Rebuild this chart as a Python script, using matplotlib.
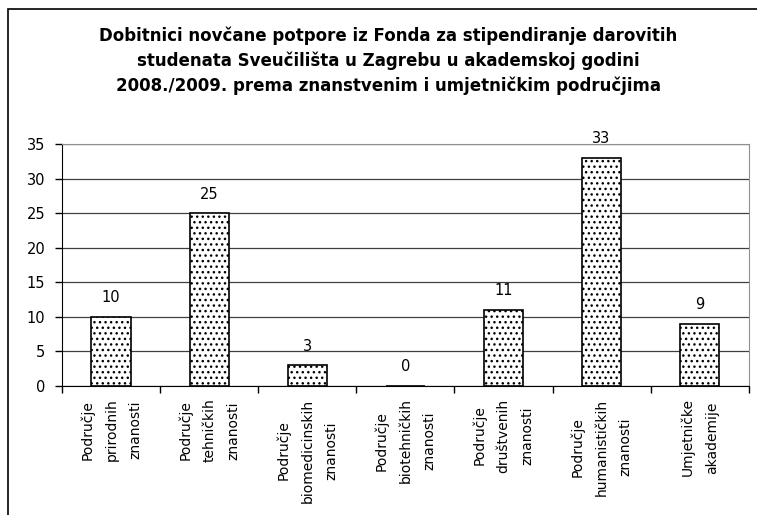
import matplotlib
matplotlib.use("Agg")
import matplotlib.pyplot as plt
from matplotlib.patches import Rectangle
import numpy as np

plt.rcParams['font.family'] = ['DejaVu Sans']
plt.rcParams['hatch.linewidth'] = 1.0
plt.rcParams['hatch.color'] = '#404040'

title = ("Dobitnici novčane potpore iz Fonda za stipendiranje darovitih\n"
         "studenata Sveučilišta u Zagrebu u akademskoj godini\n"
         "2008./2009. prema znanstvenim i umjetničkim područjima")

categories = [
    "Područje\nprirodnih\nznanosti",
    "Područje\ntehničkih\nznanosti",
    "Područje\nbiomedicinskih\nznanosti",
    "Područje\nbiotehničkih\nznanosti",
    "Područje\ndruštvenih\nznanosti",
    "Područje\nhumanističkih\nznanosti",
    "Umjetničke\nakademije",
]
values = [10, 25, 3, 0, 11, 33, 9]
y_ticks = [0, 5, 10, 15, 20, 25, 30, 35]

fig = plt.figure(figsize=(7.57, 5.15), dpi=100)
ax = fig.add_axes([0.082, 0.2505, 0.907, 0.4695])

# outer chart frame (runs off the right and bottom edges)
fig.patches.append(Rectangle((8 / 757, -0.2), 1.2, 1.2 - 9 / 515,
                             transform=fig.transFigure, fill=False,
                             edgecolor='black', linewidth=1.2))

x = np.arange(len(categories))
bars = ax.bar(x, values, width=0.4, color='white', edgecolor='black',
              linewidth=1.2, hatch='...', zorder=3)

for xi, v in zip(x, values):
    ax.text(xi, v + 1.7, str(v), ha='center', va='bottom', fontsize=10.5)

ax.set_xlim(-0.5, len(categories) - 0.5)
ax.set_ylim(0, 35)
ax.set_yticks(y_ticks)
ax.tick_params(axis='y', labelsize=10.5, length=5, direction='out', width=1,
               pad=7)
ax.yaxis.grid(True, color='#404040', linewidth=0.9, zorder=0)

ax.set_xticks(x)
ax.set_xticklabels(categories, rotation=90, fontsize=10, ha='center',
                   va='top', multialignment='center', linespacing=1.9)
ax.tick_params(axis='x', length=0, pad=9)
ax.set_xticks(np.arange(len(categories) + 1) - 0.5, minor=True)
ax.tick_params(axis='x', which='minor', length=5, direction='out', width=1)

ax.spines['left'].set_color('black')
ax.spines['bottom'].set_color('black')
ax.spines['top'].set_color('#909090')
ax.spines['right'].set_color('#909090')

fig.text(0.513, 0.948, title, ha='center', va='top', fontsize=12,
         fontweight='bold', linespacing=1.45)

fig.savefig("out.png", dpi=100)
